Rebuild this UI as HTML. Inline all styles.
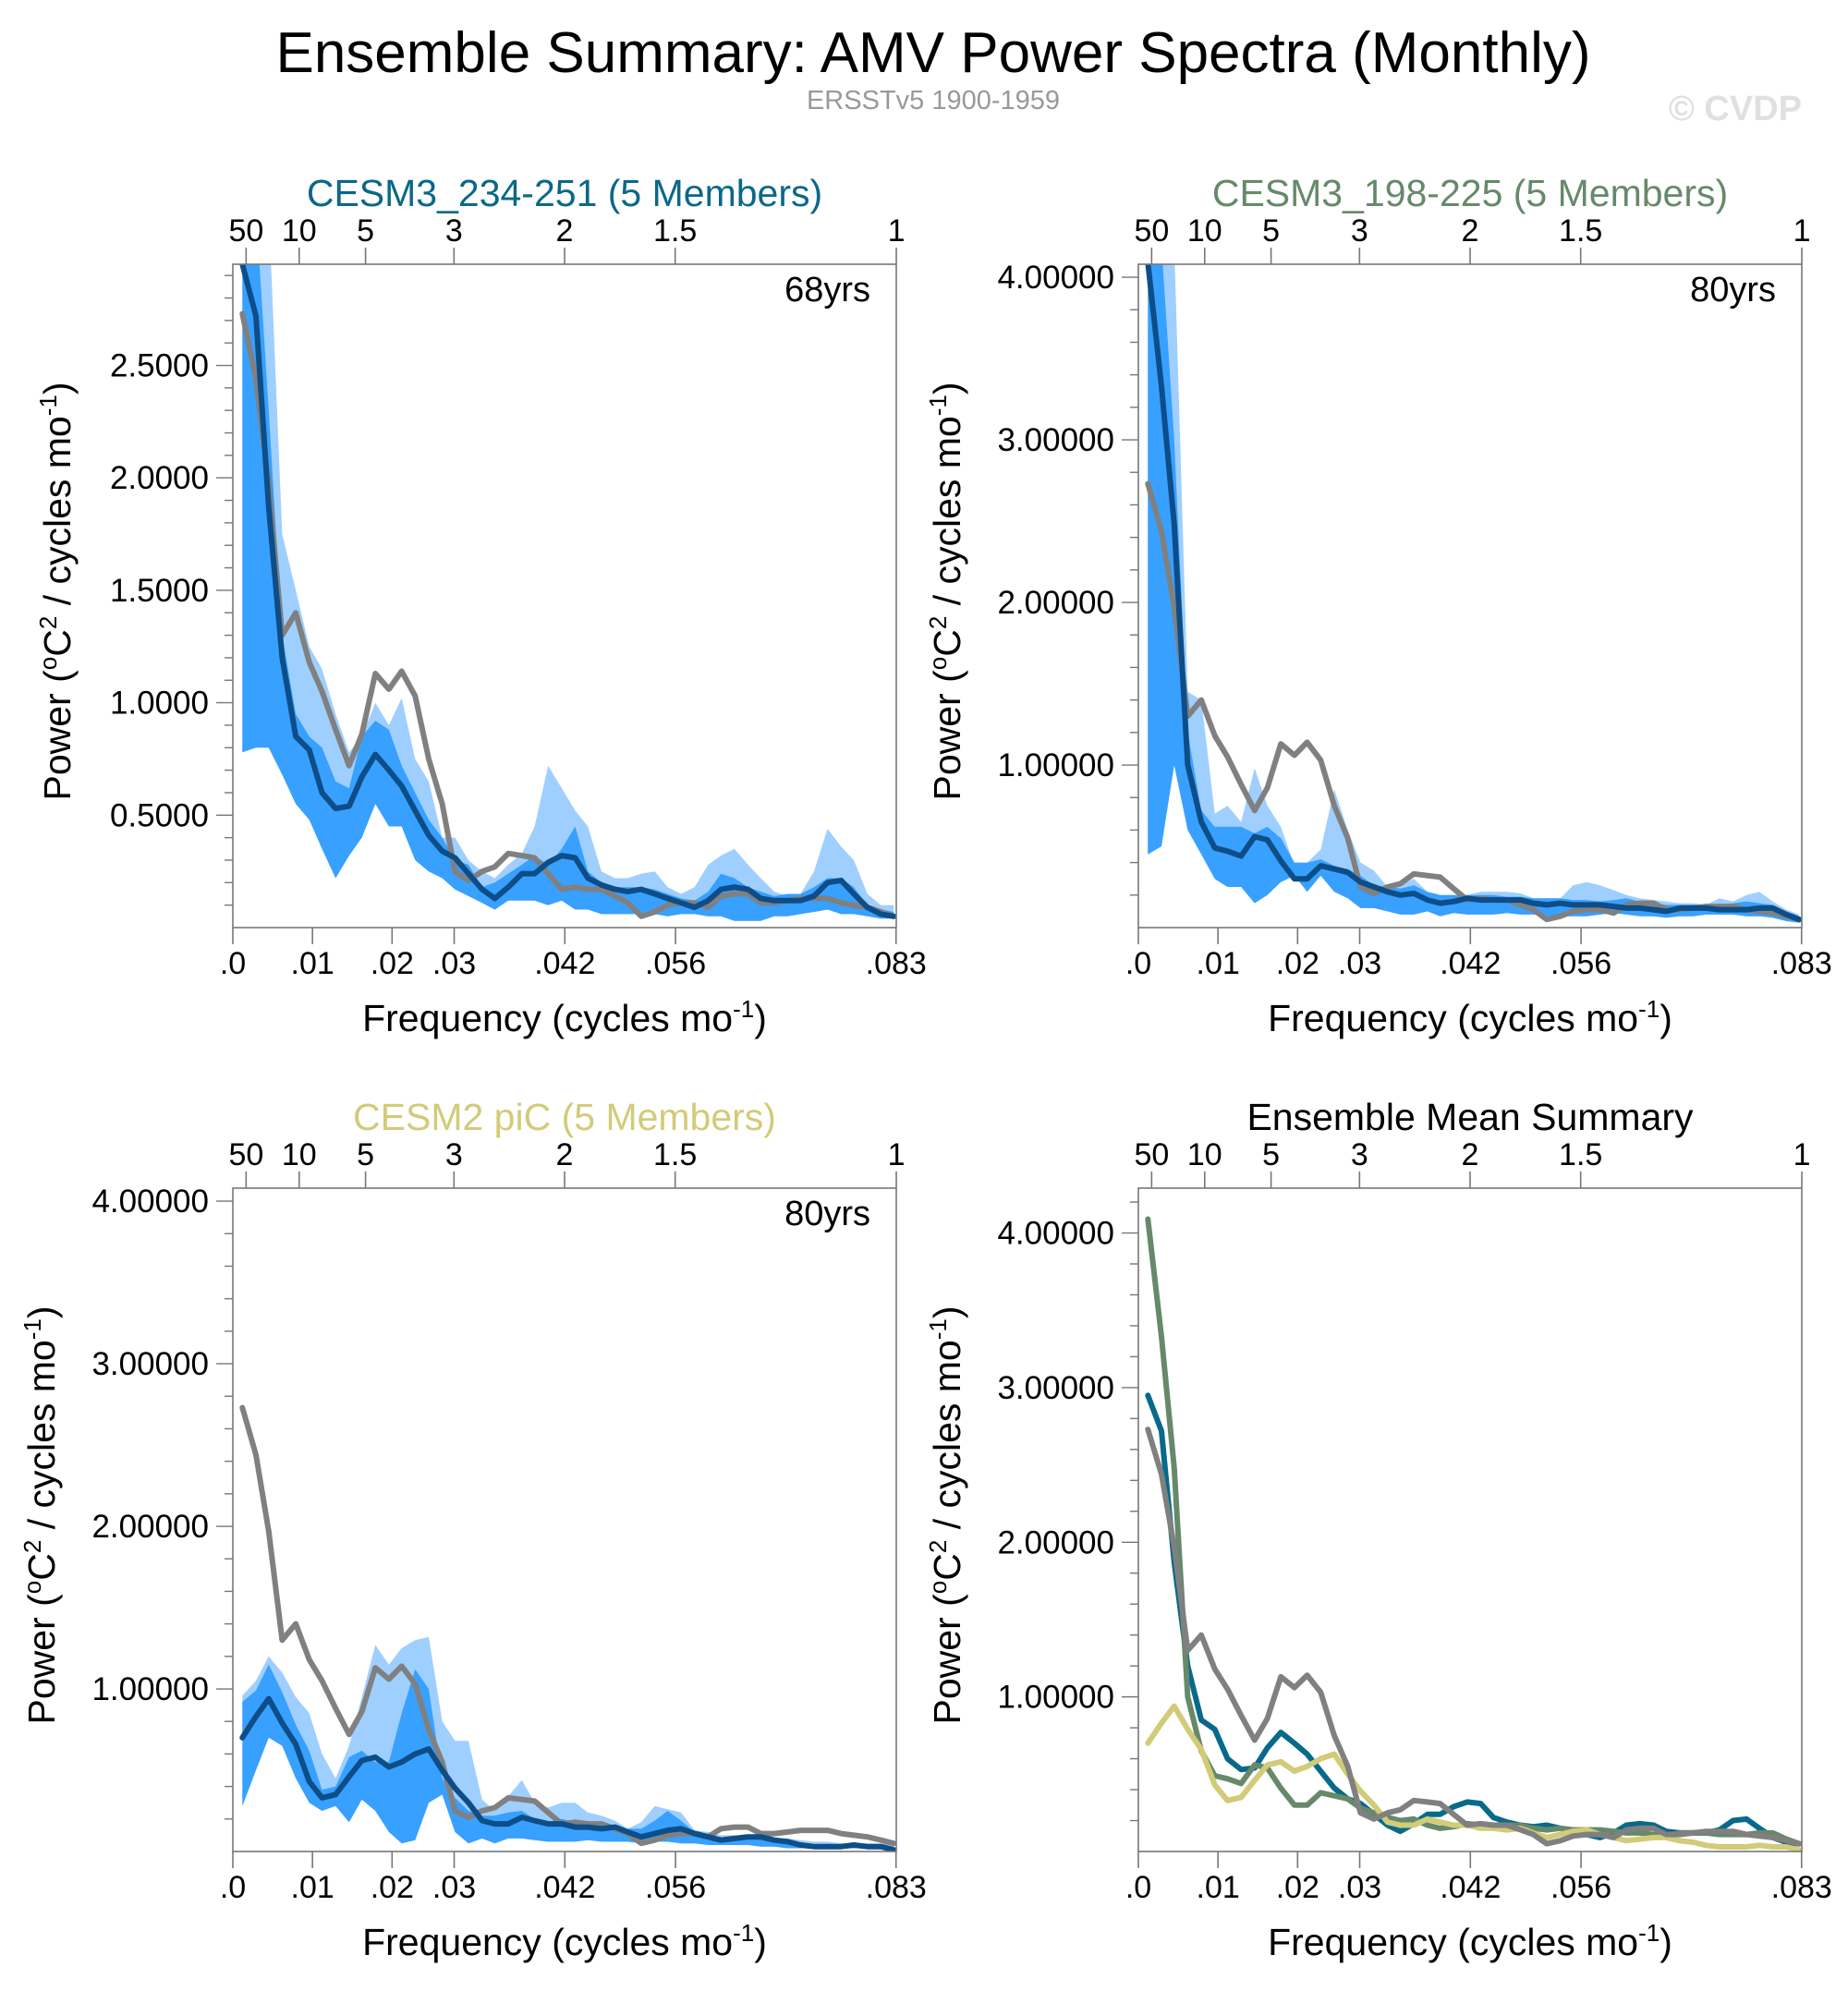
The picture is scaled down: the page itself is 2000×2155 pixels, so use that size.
<!DOCTYPE html>
<html><head><meta charset="utf-8"><title>Ensemble Summary: AMV Power Spectra (Monthly)</title>
<style>
html,body{margin:0;padding:0;background:#fff;}
svg{display:block;font-family:"Liberation Sans",Arial,sans-serif;}
</style></head>
<body>
<svg id="chart" width="2000" height="2155" viewBox="0 0 2000 2155" xmlns="http://www.w3.org/2000/svg">
<text x="1010" y="78" font-size="62" text-anchor="middle" fill="#000">Ensemble Summary: AMV Power Spectra (Monthly)</text>
<text x="1010" y="118" font-size="29" text-anchor="middle" fill="#999">ERSSTv5 1900-1959</text>
<text x="1950" y="130" font-size="38" font-weight="bold" text-anchor="end" fill="#e0e0e0">© CVDP</text>
</svg>
<script>
const freq = [0.0012,0.0029,0.0045,0.0062,0.0079,0.0096,0.0112,0.0129,0.0146,0.0162,0.0179,0.0196,0.0212,0.0229,0.0246,0.0263,0.0279,0.0296,0.0313,0.0329,0.0346,0.0363,0.0379,0.0396,0.0413,0.0430,0.0446,0.0463,0.0480,0.0496,0.0513,0.0530,0.0546,0.0563,0.0580,0.0597,0.0613,0.0630,0.0647,0.0663,0.0680,0.0697,0.0713,0.0730,0.0747,0.0764,0.0780,0.0797,0.0814,0.0830];
const obs = [2.73,2.44,1.97,1.30,1.40,1.18,1.05,0.88,0.72,0.86,1.13,1.06,1.14,1.03,0.75,0.55,0.25,0.21,0.25,0.27,0.33,0.32,0.31,0.24,0.17,0.18,0.17,0.17,0.14,0.11,0.05,0.07,0.10,0.11,0.11,0.09,0.14,0.15,0.15,0.11,0.11,0.12,0.13,0.13,0.13,0.11,0.10,0.09,0.07,0.05];
const meanA = [2.95,2.72,1.87,1.20,0.85,0.79,0.60,0.53,0.54,0.67,0.77,0.70,0.63,0.52,0.41,0.34,0.31,0.24,0.17,0.13,0.18,0.24,0.24,0.29,0.32,0.31,0.22,0.19,0.17,0.16,0.17,0.15,0.13,0.11,0.09,0.12,0.17,0.18,0.17,0.13,0.12,0.12,0.12,0.14,0.20,0.21,0.15,0.09,0.06,0.05];
const innerHiA = [3.2,3.2,2.3,1.3,0.95,0.85,0.80,0.65,0.62,0.85,0.92,0.88,0.72,0.60,0.48,0.40,0.30,0.28,0.18,0.20,0.24,0.28,0.32,0.28,0.35,0.45,0.25,0.20,0.18,0.18,0.18,0.17,0.15,0.13,0.12,0.16,0.24,0.22,0.18,0.16,0.14,0.15,0.15,0.18,0.22,0.22,0.18,0.10,0.08,0.07];
const outerHiA = [3.2,3.2,3.2,1.75,1.50,1.25,1.15,0.95,0.78,0.85,1.00,0.90,1.02,0.75,0.65,0.40,0.40,0.30,0.25,0.22,0.28,0.33,0.45,0.72,0.62,0.52,0.45,0.25,0.22,0.22,0.24,0.25,0.18,0.15,0.18,0.28,0.32,0.35,0.28,0.22,0.16,0.14,0.15,0.25,0.44,0.36,0.30,0.15,0.10,0.10];
const lowA = [0.78,0.80,0.80,0.68,0.55,0.48,0.35,0.22,0.32,0.40,0.55,0.45,0.45,0.30,0.25,0.22,0.17,0.14,0.11,0.08,0.12,0.12,0.12,0.10,0.12,0.08,0.08,0.06,0.06,0.06,0.06,0.06,0.05,0.06,0.06,0.05,0.05,0.03,0.03,0.03,0.05,0.05,0.06,0.07,0.08,0.06,0.06,0.05,0.04,0.04];
const meanB = [4.09,3.33,2.48,1.00,0.65,0.49,0.47,0.44,0.56,0.54,0.41,0.30,0.30,0.38,0.36,0.34,0.28,0.25,0.22,0.20,0.21,0.17,0.15,0.16,0.18,0.17,0.17,0.17,0.17,0.15,0.14,0.15,0.14,0.14,0.14,0.13,0.12,0.12,0.11,0.10,0.12,0.12,0.12,0.11,0.11,0.11,0.12,0.12,0.08,0.05];
const innerHiB = [4.2,4.2,3.0,1.2,0.72,0.62,0.62,0.62,0.58,0.62,0.55,0.40,0.40,0.42,0.38,0.36,0.32,0.26,0.25,0.24,0.26,0.22,0.20,0.20,0.20,0.20,0.20,0.19,0.19,0.18,0.18,0.18,0.17,0.17,0.16,0.17,0.18,0.16,0.15,0.14,0.14,0.14,0.14,0.14,0.15,0.16,0.15,0.14,0.10,0.07];
const outerHiB = [4.2,4.2,4.2,1.45,1.40,0.70,0.75,0.65,0.98,0.75,0.62,0.38,0.40,0.48,0.85,0.60,0.40,0.35,0.25,0.26,0.30,0.22,0.20,0.20,0.20,0.22,0.22,0.22,0.21,0.18,0.18,0.18,0.26,0.28,0.26,0.23,0.20,0.18,0.17,0.16,0.15,0.15,0.14,0.18,0.16,0.20,0.22,0.16,0.11,0.08];
const lowB = [0.45,0.50,1.00,0.60,0.45,0.30,0.25,0.25,0.15,0.20,0.28,0.32,0.22,0.32,0.22,0.18,0.12,0.12,0.10,0.08,0.08,0.10,0.07,0.09,0.08,0.08,0.08,0.09,0.08,0.08,0.07,0.07,0.07,0.07,0.08,0.09,0.08,0.07,0.07,0.06,0.07,0.07,0.08,0.08,0.08,0.07,0.07,0.06,0.04,0.03];
const meanC = [0.70,0.83,0.94,0.79,0.66,0.43,0.33,0.35,0.46,0.56,0.58,0.52,0.55,0.60,0.63,0.50,0.39,0.30,0.19,0.17,0.17,0.21,0.19,0.17,0.17,0.15,0.15,0.14,0.15,0.12,0.09,0.11,0.13,0.14,0.11,0.09,0.07,0.08,0.09,0.09,0.07,0.06,0.04,0.03,0.03,0.03,0.04,0.03,0.03,0.01];
const innerHiC = [0.92,0.99,1.15,0.98,0.78,0.62,0.38,0.40,0.58,0.62,0.55,0.55,0.85,1.12,1.00,0.45,0.33,0.25,0.22,0.22,0.24,0.25,0.20,0.18,0.20,0.18,0.17,0.14,0.13,0.14,0.14,0.19,0.25,0.19,0.12,0.10,0.08,0.08,0.08,0.08,0.06,0.05,0.05,0.04,0.04,0.04,0.04,0.04,0.04,0.03];
const outerHiC = [0.96,1.05,1.20,1.10,0.95,0.85,0.60,0.45,0.65,0.95,1.27,1.15,1.25,1.30,1.32,0.80,0.68,0.68,0.32,0.25,0.34,0.44,0.30,0.27,0.30,0.30,0.24,0.22,0.19,0.14,0.18,0.28,0.26,0.24,0.13,0.12,0.10,0.10,0.09,0.08,0.08,0.08,0.07,0.06,0.06,0.05,0.05,0.05,0.05,0.04];
const lowC = [0.28,0.50,0.70,0.65,0.45,0.30,0.25,0.28,0.18,0.32,0.25,0.12,0.05,0.07,0.30,0.35,0.12,0.05,0.08,0.05,0.08,0.08,0.07,0.06,0.06,0.06,0.07,0.06,0.06,0.06,0.05,0.06,0.06,0.05,0.05,0.04,0.04,0.04,0.04,0.03,0.03,0.02,0.02,0.02,0.02,0.02,0.02,0.02,0.02,0.01];
const bottomTicks = [0,0.01,0.02,0.0278,0.0417,0.0556,0.0833];
const bottomLabels = ['.0','.01','.02','.03','.042','.056','.083'];
const periodTicks = [50,10,5,3,2,1.5,1];
const periodLabels = ['50','10','5','3','2','1.5','1'];

const NS='http://www.w3.org/2000/svg';
const svg=document.getElementById('chart');
const FMAX=0.08333;
function mk(tag,attrs,parent){const e=document.createElementNS(NS,tag);for(const k in attrs)e.setAttribute(k,attrs[k]);(parent||svg).appendChild(e);return e;}

const panels=[
 {id:'a',L:252,T:286,title:'CESM3_234-251 (5 Members)',tcol:'#0a6888',ymax:2.95,major:[0.5,1,1.5,2,2.5],dec:4,minorStep:0.1,yrs:'68yrs',mean:meanA,ih:innerHiA,oh:outerHiA,lo:lowA},
 {id:'b',L:1232,T:286,title:'CESM3_198-225 (5 Members)',tcol:'#66896a',ymax:4.08,major:[1,2,3,4],dec:5,minorStep:0.2,yrs:'80yrs',mean:meanB,ih:innerHiB,oh:outerHiB,lo:lowB},
 {id:'c',L:252,T:1286,title:'CESM2 piC (5 Members)',tcol:'#d2cb78',ymax:4.08,major:[1,2,3,4],dec:5,minorStep:0.2,yrs:'80yrs',mean:meanC,ih:innerHiC,oh:outerHiC,lo:lowC},
 {id:'d',L:1232,T:1286,title:'Ensemble Mean Summary',tcol:'#000',ymax:4.29,major:[1,2,3,4],dec:5,minorStep:0.2,yrs:null}
];
const W=718,H=718;

panels.forEach(p=>{
 const g=mk('g',{});
 
 
 const xs=f=>p.L+f/FMAX*W;
 const ys=v=>p.T+H-v/p.ymax*H;
 const cp=mk('clipPath',{id:'clip-'+p.id},g);
 mk('rect',{x:p.L,y:p.T,width:W,height:H},cp);
 const plot=mk('g',{'clip-path':'url(#clip-'+p.id+')'},g);
 function band(hi,lo,col,name){
   let d='M'+freq.map((f,i)=>xs(f).toFixed(1)+','+ys(hi[i]).toFixed(1)).join('L');
   for(let i=freq.length-1;i>=0;i--) d+='L'+xs(freq[i]).toFixed(1)+','+ys(lo[i]).toFixed(1);
   const e=mk('path',{d:d+'Z',fill:col,stroke:'none'},plot);
   
   
 }
 function line(vals,col,name){
   const d='M'+freq.map((f,i)=>xs(f).toFixed(1)+','+ys(vals[i]).toFixed(1)).join('L');
   const e=mk('path',{d:d,fill:'none',stroke:col,'stroke-width':6,'stroke-linejoin':'round','stroke-linecap':'round'},plot);
   
   
 }
 if(p.mean){
   band(p.oh,p.lo,'#9fcfff','outer-spread-band');
   band(p.ih,p.lo,'#38a0ff','inner-spread-band');
   line(obs,'#808080','observed-spectrum-line');
   line(p.mean,'#0d4d88','ensemble-mean-line');
 } else {
   line(meanA,'#076a8a','cesm3-234-251-mean-line');
   line(meanB,'#66896a','cesm3-198-225-mean-line');
   line(meanC,'#d2cb78','cesm2-pic-mean-line');
   line(obs,'#808080','observed-spectrum-line');
 }
 const fr=mk('rect',{x:p.L,y:p.T,width:W,height:H,fill:'none',stroke:'#777','stroke-width':1.6},g);
 
 
 bottomTicks.forEach((t,i)=>{
   mk('line',{x1:xs(t),x2:xs(t),y1:p.T+H,y2:p.T+H+18,stroke:'#777','stroke-width':1.6},g);
   const tx=mk('text',{x:xs(t),y:p.T+H+50,'font-size':34,'text-anchor':'middle',fill:'#000'},g);
   tx.textContent=bottomLabels[i];
   
   
 });
 periodTicks.forEach((P,i)=>{
   const x=xs(1/(12*P));
   mk('line',{x1:x,x2:x,y1:p.T,y2:p.T-18,stroke:'#777','stroke-width':1.6},g);
   const tx=mk('text',{x:x,y:p.T-25,'font-size':34,'text-anchor':'middle',fill:'#000'},g);
   tx.textContent=periodLabels[i];
   
   
 });
 for(let v=p.minorStep;v<p.ymax;v+=p.minorStep){
   const isMaj=p.major.some(m=>Math.abs(m-v)<1e-6);
   mk('line',{x1:p.L,x2:p.L-(isMaj?18:9),y1:ys(v),y2:ys(v),stroke:'#777','stroke-width':1.4},g);
 }
 p.major.forEach(v=>{
   const tx=mk('text',{x:p.L-26,y:ys(v)+12,'font-size':35,'text-anchor':'end',fill:'#000'},g);
   tx.textContent=v.toFixed(p.dec);
   
   
 });
 const tt=mk('text',{x:p.L+W/2,y:p.T-63,'font-size':41,'text-anchor':'middle',fill:p.tcol},g);
 tt.textContent=p.title;
 
 
 if(p.yrs){
   const yt=mk('text',{x:p.L+W-28,y:p.T+40,'font-size':38,'text-anchor':'end',fill:'#000'},g);
   yt.textContent=p.yrs;
   
   
 }
 const xt=mk('text',{x:p.L+W/2,y:p.T+H+112,'font-size':41,'text-anchor':'middle',fill:'#000'},g);
 xt.innerHTML='Frequency (cycles mo<tspan dy="-15" font-size="26">-1</tspan><tspan dy="15">)</tspan>';
 
 
 const yx=p.L-(p.dec===4?176:193), yc=p.T+H/2-5;
 const yt2=mk('text',{x:yx,y:yc,'font-size':41,'text-anchor':'middle',fill:'#000',transform:'rotate(-90 '+yx+' '+yc+')'},g);
 yt2.innerHTML='Power (<tspan dy="-15" font-size="26">o</tspan><tspan dy="15">C</tspan><tspan dy="-15" font-size="26">2</tspan><tspan dy="15"> / cycles mo</tspan><tspan dy="-15" font-size="26">-1</tspan><tspan dy="15">)</tspan>';
 
 
});
</script>
</body></html>
